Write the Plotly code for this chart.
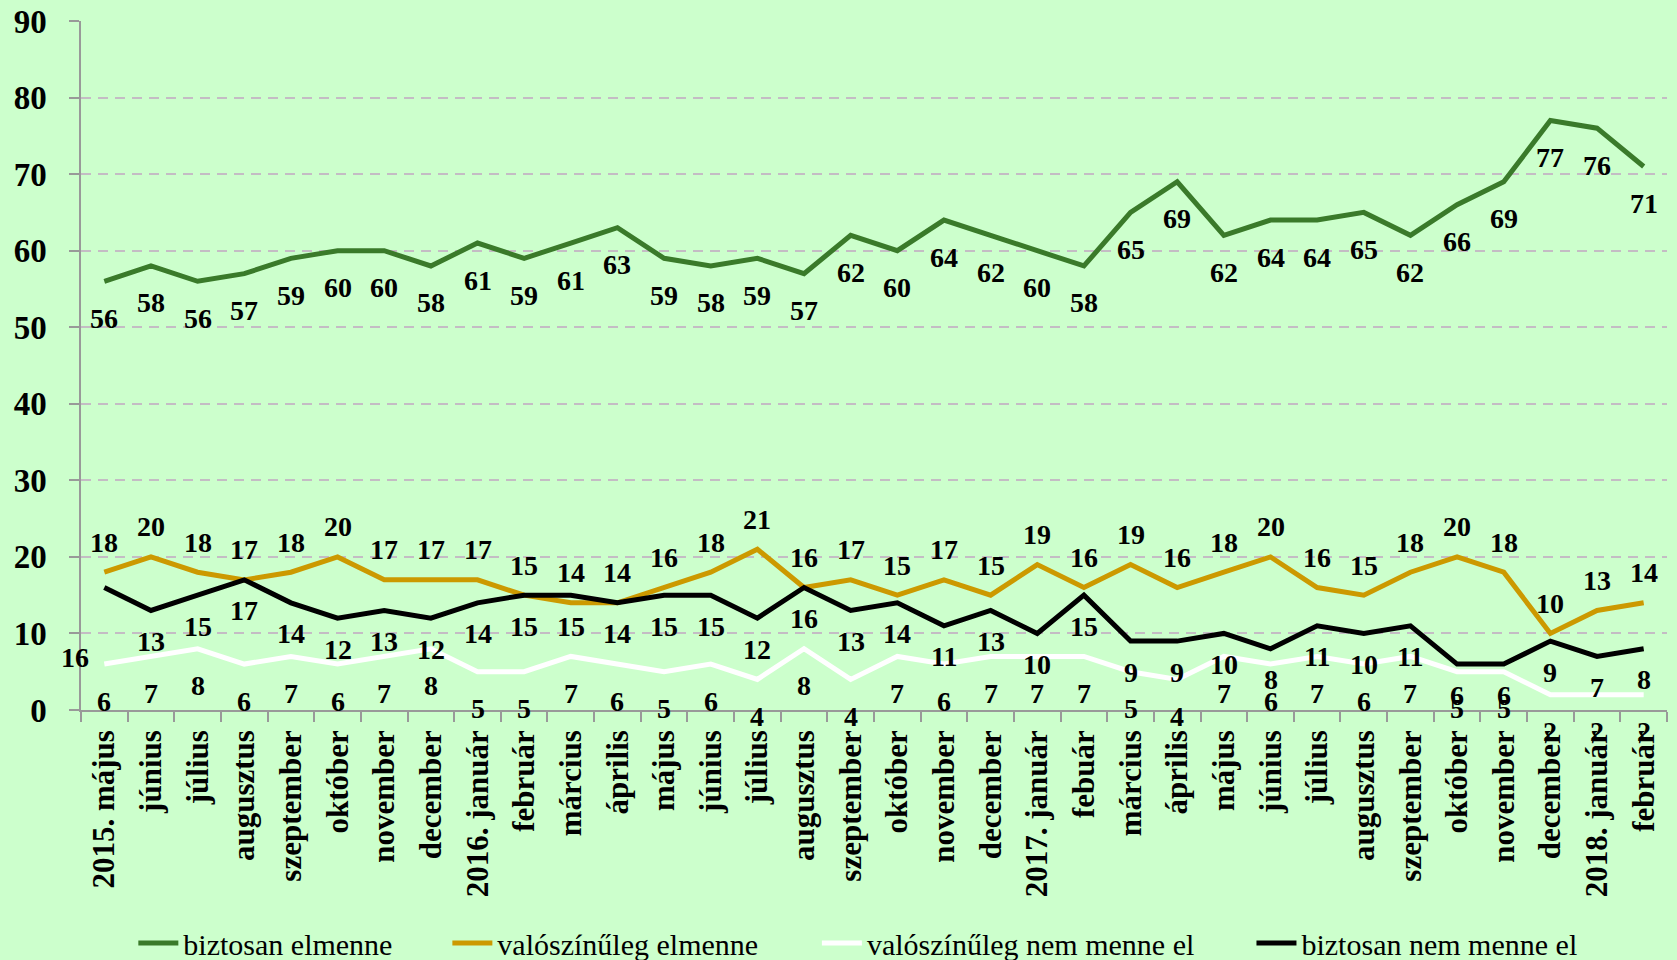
import plotly.graph_objects as go

categories = ["2015. május", "június", "július", "augusztus", "szeptember", "október",
              "november", "december", "2016. január", "február", "március", "április",
              "május", "június", "július", "augusztus", "szeptember", "október",
              "november", "december", "2017. január", "febuár", "március", "április",
              "május", "június", "július", "augusztus", "szeptember", "október",
              "november", "december", "2018. január", "február"]

biztosan_elmenne = [56, 58, 56, 57, 59, 60, 60, 58, 61, 59, 61, 63, 59, 58, 59, 57, 62, 60,
                    64, 62, 60, 58, 65, 69, 62, 64, 64, 65, 62, 66, 69, 77, 76, 71]
valoszinuleg_elmenne = [18, 20, 18, 17, 18, 20, 17, 17, 17, 15, 14, 14, 16, 18, 21, 16, 17, 15,
                        17, 15, 19, 16, 19, 16, 18, 20, 16, 15, 18, 20, 18, 10, 13, 14]
valoszinuleg_nem = [6, 7, 8, 6, 7, 6, 7, 8, 5, 5, 7, 6, 5, 6, 4, 8, 4, 7,
                    6, 7, 7, 7, 5, 4, 7, 6, 7, 6, 7, 5, 5, 2, 2, 2]
biztosan_nem = [16, 13, 15, 17, 14, 12, 13, 12, 14, 15, 15, 14, 15, 15, 12, 16, 13, 14,
                11, 13, 10, 15, 9, 9, 10, 8, 11, 10, 11, 6, 6, 9, 7, 8]

y_ticks = [0, 10, 20, 30, 40, 50, 60, 70, 80, 90]

# name, values, colour, label offset (px), legend id, legend x (paper)
series = [
    ("biztosan elmenne", biztosan_elmenne, "#3A7A2A", -37, "legend", 0.033),
    ("valószínűleg elmenne", valoszinuleg_elmenne, "#CC9900", 30, "legend2", 0.231),
    ("valószínűleg nem menne el", valoszinuleg_nem, "#FFFFFF", -37, "legend3", 0.464),
    ("biztosan nem menne el", biztosan_nem, "#000000", -31, "legend4", 0.738),
]

FONT = "Liberation Serif, Times New Roman, serif"
x = list(range(len(categories)))

fig = go.Figure()
annotations = []
legends = {}
for name, vals, color, dy, lg, lx in series:
    fig.add_trace(go.Scatter(x=x, y=vals, mode="lines", name=name, legend=lg,
                             line=dict(color=color, width=5), hoverinfo="skip"))
    legends[lg] = dict(orientation="h", x=lx, xanchor="left", y=-0.338, yanchor="middle",
                       font=dict(family=FONT, size=30, color="#000000"),
                       bgcolor="rgba(0,0,0,0)", itemwidth=40)
    for i, v in enumerate(vals):
        xs, ys = 0, dy
        if name == "biztosan nem menne el" and i == 0:
            xs, ys = -29, -70
        annotations.append(dict(x=i, y=v, text=str(v), showarrow=False,
                                xshift=xs, yshift=ys,
                                font=dict(family=FONT, size=28, color="#000000", weight="bold")))

fig.update_layout(
    width=1677, height=960,
    paper_bgcolor="#CCFFCC", plot_bgcolor="#CCFFCC",
    margin=dict(l=81, r=10, t=21, b=250, autoexpand=False),
    annotations=annotations,
    showlegend=True,
    **legends,
)
fig.update_xaxes(
    range=[-0.5, len(categories) - 0.5], automargin=False,
    tickmode="array", tickvals=x, ticktext=categories, tickangle=-90,
    tickfont=dict(family=FONT, size=31, color="#000000", weight="bold"),
    showgrid=False, zeroline=False,
    showline=True, linecolor="#999999", linewidth=1.5,
    ticks="", ticklabelstandoff=6,
    minor=dict(tickmode="array", tickvals=[i - 0.5 for i in range(len(categories) + 1)],
               ticks="outside", ticklen=10, tickcolor="#999999", tickwidth=1.5, showgrid=False),
)
fig.update_yaxes(
    range=[0, 90], tickmode="array", tickvals=y_ticks, automargin=False,
    tickfont=dict(family=FONT, size=33, color="#000000", weight="bold"),
    showgrid=True, gridcolor="#C4BCC4", gridwidth=1.5, griddash="10px,7px",
    zeroline=False, showline=True, linecolor="#999999", linewidth=1.5,
    ticks="outside", ticklen=10, tickcolor="#999999", tickwidth=1.5,
    ticklabelstandoff=16,
)

fig.write_html("out.html", config={"displayModeBar": False},
               post_script="document.body.style.margin='0px';document.body.style.overflow='hidden';")
